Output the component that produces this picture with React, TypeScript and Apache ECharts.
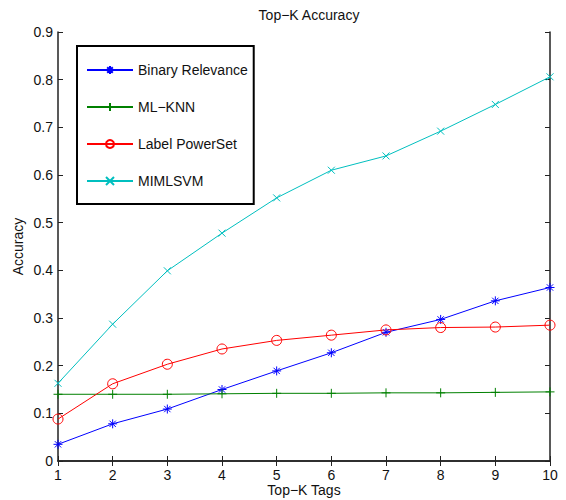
import React, { useEffect, useRef } from "react";
import * as echarts from "echarts";

const topK = [1, 2, 3, 4, 5, 6, 7, 8, 9, 10];
const binaryRelevance = [0.035, 0.078, 0.109, 0.15, 0.189, 0.227, 0.27, 0.297, 0.336, 0.364];
const mlKnn = [0.14, 0.14, 0.14, 0.141, 0.142, 0.142, 0.143, 0.143, 0.144, 0.145];
const labelPowerSet = [0.088, 0.162, 0.203, 0.235, 0.253, 0.264, 0.275, 0.28, 0.281, 0.285];
const mimlsvm = [0.163, 0.287, 0.399, 0.478, 0.552, 0.61, 0.64, 0.692, 0.748, 0.806];
const seriesNames = ["Binary Relevance", "ML\u2212KNN", "Label PowerSet", "MIMLSVM"];

const FONT = "Liberation Sans, Arial, Helvetica, sans-serif";

const pairs = (ys: number[]) => topK.map((x, i) => [x, ys[i]]);

export default function App() {
  const ref = useRef<HTMLDivElement>(null);
  useEffect(() => {
    if (!ref.current) return;
    const chart = echarts.init(ref.current, undefined, { renderer: "svg" });
    const axisLine = { show: true, lineStyle: { color: "#222", width: 1.5 } };
    const tick = { show: true, inside: true, length: 5, lineStyle: { color: "#222", width: 1 } };
    const mk = (name: string, data: number[], color: string, symbol: string, size: number, fill: string) => ({
      name,
      type: "line",
      data: pairs(data),
      symbol,
      symbolSize: size,
      lineStyle: { color, width: 1 },
      itemStyle: { color: fill, borderColor: color, borderWidth: 1 },
      emphasis: { disabled: true },
    });
    chart.setOption({
      animation: false,
      backgroundColor: "#fff",
      textStyle: { fontFamily: FONT },
      title: {
        text: "Top\u2212K Accuracy",
        left: 304,
        textAlign: "center",
        top: 3,
        textStyle: { fontSize: 14, fontWeight: "normal", color: "#111", fontFamily: FONT },
      },
      grid: { left: 58, right: 16, top: 32, bottom: 39, outerBoundsMode: "none", containLabel: false },
      legend: {
        orient: "vertical",
        left: 77,
        top: 46,
        padding: [17, 6, 16, 9],
        itemGap: 23,
        itemWidth: 46,
        itemHeight: 10,
        borderColor: "#000",
        borderWidth: 2,
        backgroundColor: "#fff",
        textStyle: { fontSize: 14, color: "#111", fontFamily: FONT, padding: [0, 0, 0, 0] },
        data: seriesNames,
      },
      xAxis: [
        {
          type: "value",
          min: 1,
          max: 10,
          interval: 1,
          name: "Top\u2212K Tags",
          nameLocation: "middle",
          nameGap: 22,
          nameMoveOverlap: false,
          nameTextStyle: { fontSize: 14, color: "#111" },
          axisLine,
          axisTick: tick,
          splitLine: { show: false },
          axisLabel: { fontSize: 14, color: "#111", margin: 7 },
        },
        {
          type: "value",
          position: "top",
          min: 1,
          max: 10,
          interval: 1,
          axisLine,
          axisTick: tick,
          splitLine: { show: false },
          axisLabel: { show: false },
        },
      ],
      yAxis: [
        {
          type: "value",
          min: 0,
          max: 0.9,
          interval: 0.1,
          name: "Accuracy",
          nameLocation: "middle",
          nameGap: 33,
          nameMoveOverlap: false,
          nameTextStyle: { fontSize: 14, color: "#111" },
          axisLine,
          axisTick: tick,
          splitLine: { show: false },
          axisLabel: {
            fontSize: 14,
            color: "#111",
            margin: 5,
            formatter: (v: number) => (v === 0 ? "0" : v.toFixed(1)),
          },
        },
        {
          type: "value",
          position: "right",
          min: 0,
          max: 0.9,
          interval: 0.1,
          axisLine,
          axisTick: tick,
          splitLine: { show: false },
          axisLabel: { show: false },
        },
      ],
      series: [
        mk(seriesNames[0], binaryRelevance, "#0000ff", "path://M5,0L5,10M0,5L10,5M1.5,1.5L8.5,8.5M8.5,1.5L1.5,8.5", 9, "#0000ff"),
        mk(seriesNames[1], mlKnn, "#008000", "path://M5,0L5,10M0,5L10,5", 9, "#008000"),
        mk(seriesNames[2], labelPowerSet, "#ff0000", "circle", 10, "rgba(255,255,255,0)"),
        mk(seriesNames[3], mimlsvm, "#00bfbf", "path://M0,0L10,10M10,0L0,10", 7, "#00bfbf"),
      ],
    });
    return () => chart.dispose();
  }, []);
  return <div ref={ref} style={{ width: 566, height: 500, position: "absolute", left: 0, top: 0 }} />;
}
